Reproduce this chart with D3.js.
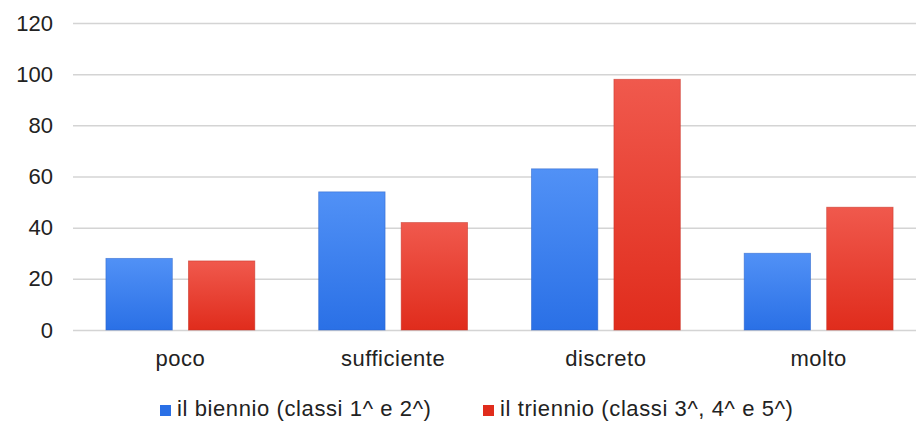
<!DOCTYPE html>
<html>
<head>
<meta charset="utf-8">
<script src="https://cdn.jsdelivr.net/npm/d3@7"></script>
<style>
  html, body { margin: 0; padding: 0; background: #fff; }
  svg { display: block; font-family: "Liberation Sans", Arial, sans-serif; }
</style>
</head>
<body>
<svg id="chart" width="916" height="421"></svg>
<script>
const categories = ["poco", "sufficiente", "discreto", "molto"];
const seriesNames = ["il biennio (classi 1^ e 2^)", "il triennio (classi 3^, 4^ e 5^)"];
const biennio = [28, 54, 63, 30];
const triennio = [27, 42, 98, 48];
const yTicks = [0, 20, 40, 60, 80, 100, 120];

const seriesValues = [biennio, triennio];
const colors = [
  { top: "#5191f6", bottom: "#2a70e6", stroke: "#2a63c8" },
  { top: "#f0594d", bottom: "#e02c1c", stroke: "#c53024" }
];

const svg = d3.select("#chart");
const width = 916, height = 421;

const x0 = d3.scaleBand().domain(categories).range([74, 925]).paddingInner(0.3).paddingOuter(0.15);
const x1 = d3.scaleBand().domain(d3.range(seriesNames.length)).range([0, x0.bandwidth()]).paddingInner(0.195);
const y = d3.scaleLinear().domain([0, 120]).range([330, 23]);

const defs = svg.append("defs");
colors.forEach((c, i) => {
  const g = defs.append("linearGradient").attr("id", "grad" + i)
    .attr("x1", 0).attr("y1", 0).attr("x2", 0).attr("y2", 1);
  g.append("stop").attr("offset", "0%").attr("stop-color", c.top);
  g.append("stop").attr("offset", "100%").attr("stop-color", c.bottom);
});

// gridlines + y labels via axis
const yAxis = d3.axisLeft(y).tickValues(yTicks).tickSize(-(width - 73)).tickPadding(20).tickFormat(d3.format("d"));
const gy = svg.append("g").attr("transform", "translate(73,0)").call(yAxis);
gy.select(".domain").remove();
gy.selectAll(".tick line").attr("stroke", "#d4d4d4").attr("stroke-width", 1.5);
gy.selectAll(".tick text").attr("font-size", 22).attr("fill", "#222").attr("x", -20);

// bars
const groups = svg.append("g").selectAll("g").data(categories).join("g")
  .attr("transform", d => `translate(${x0(d)},0)`);
groups.selectAll("rect")
  .data((d, ci) => seriesValues.map((s, si) => ({ si, v: s[ci] })))
  .join("rect")
  .attr("x", d => x1(d.si))
  .attr("width", x1.bandwidth())
  .attr("y", d => y(d.v))
  .attr("height", d => y(0) - y(d.v))
  .attr("fill", d => `url(#grad${d.si})`)
  .attr("stroke", d => colors[d.si].stroke)
  .attr("stroke-width", 0.8)
  .attr("stroke-opacity", 0.6);

// x labels
const xAxis = d3.axisBottom(x0).tickSize(0).tickPadding(0);
const gx = svg.append("g").attr("transform", "translate(0,350)").call(xAxis);
gx.select(".domain").remove();
gx.selectAll(".tick text").attr("font-size", 22).attr("fill", "#222").attr("dy", "0.71em").attr("y", 0)
  .attr("letter-spacing", 0.5);

// legend
const legendX = [160, 483];
const legend = svg.append("g");
seriesNames.forEach((name, i) => {
  legend.append("rect").attr("x", legendX[i]).attr("y", 405).attr("width", 11).attr("height", 11)
    .attr("fill", colors[i].bottom);
  legend.append("text").attr("x", legendX[i] + 17).attr("y", 416)
    .attr("font-size", 22).attr("fill", "#222").attr("letter-spacing", 0.6).text(name);
});
</script>
</body>
</html>
